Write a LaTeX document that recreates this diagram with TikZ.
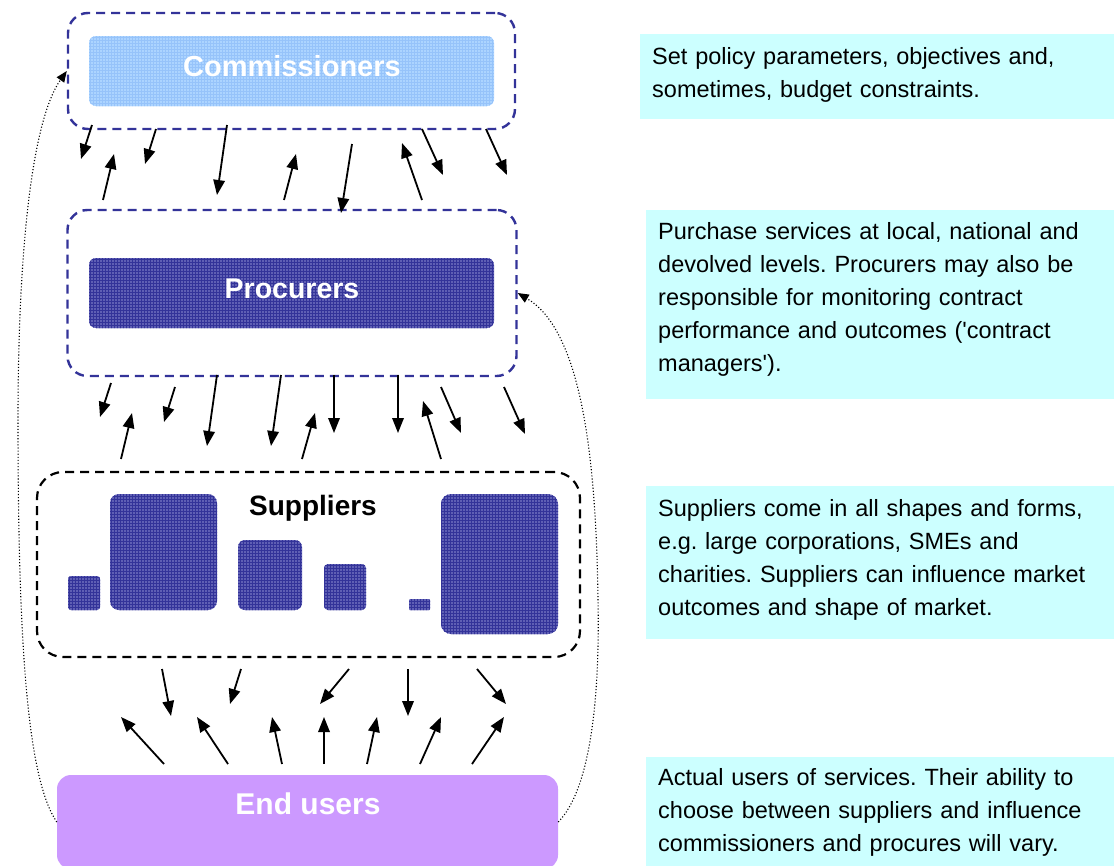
\documentclass[tikz,border=0pt]{standalone}
\usepackage{fontspec}
\setmainfont{Liberation Sans}[Ligatures=TeXOff]
\frenchspacing
\usetikzlibrary{arrows.meta,patterns}
\definecolor{dblue}{RGB}{51,51,153}
\definecolor{procfill}{RGB}{95,95,180}
\definecolor{commfill}{RGB}{172,212,255}
\definecolor{commline}{RGB}{150,195,250}
\definecolor{eufill}{RGB}{204,153,255}
\definecolor{notefill}{RGB}{204,255,255}
\tikzset{
  outerbox/.style={draw=dblue,line width=2.4pt,dash pattern=on 9pt off 6pt,rounded corners=20pt,inner sep=0pt},
  supbox/.style={draw=black,line width=2.2pt,dash pattern=on 9pt off 6pt,rounded corners=26pt,inner sep=0pt},
  procstyle/.style={fill=procfill,rounded corners=7pt,inner sep=0pt,
     postaction={pattern=grid,pattern color=dblue}},
  commstyle/.style={fill=commfill,rounded corners=7pt,inner sep=0pt,
     postaction={pattern=grid,pattern color=commline}},
  boxlabel/.style={text=white,inner sep=0pt,font=\bfseries\fontsize{29}{30}\selectfont},
  supsq/.style={fill=procfill,rounded corners=#1,postaction={pattern=grid,pattern color=dblue}},
  notebox/.style={fill=notefill,anchor=north west,inner sep=0pt,minimum width=#1},
  notetext/.style={anchor=north west,inner sep=0pt,text width=450pt,align=left,
     font=\fontsize{23.5}{33}\selectfont},
  arr/.style={line width=1.8pt,-{Triangle[length=15pt,width=11.5pt]}},
  dotarr/.style={line width=1.1pt,dotted,-{Triangle[length=11pt,width=9pt]}}
}
\begin{document}
\begin{tikzpicture}[x=1pt,y=-1pt]
\clip (0,0) rectangle (1114,865);
\fill[white] (0,0) rectangle (1114,865);

% right notes
\node[notebox=474pt,minimum height=85pt] (n1) at (640,34) {};
\node[notetext] (t1) at (652,47) {Set policy parameters, objectives and,\\sometimes, budget constraints.};
\node[notebox=468pt,minimum height=189pt] (n2) at (646,210) {};
\node[notetext] (t2) at (658,222) {Purchase services at local, national and\\devolved levels. Procurers may also be\\responsible for monitoring contract\\performance and outcomes ('contract\\managers').};
\node[notebox=468pt,minimum height=153pt] (n3) at (646,486) {};
\node[notetext] (t3) at (658,499) {Suppliers come in all shapes and forms,\\e.g. large corporations, SMEs and\\charities. Suppliers can influence market\\outcomes and shape of market.};
\node[notebox=468pt,minimum height=112pt] (n4) at (646,757) {};
\node[notetext] (t4) at (658,768) {Actual users of services. Their ability to\\choose between suppliers and influence\\commissioners and procures will vary.};

% commissioners
\node[outerbox,minimum width=447pt,minimum height=116pt] (commbox) at (291.5,71) {};
\node[commstyle,minimum width=405pt,minimum height=70pt] (comm) at (291.5,71) {};
\node[boxlabel] (commlabel) at (292,66) {Commissioners};

% procurers
\node[outerbox,minimum width=449pt,minimum height=166pt] (procbox) at (292,293) {};
\node[procstyle,minimum width=405pt,minimum height=70pt] (proc) at (291.5,293) {};
\node[boxlabel,font=\bfseries\fontsize{28.5}{30}\selectfont] (proclabel) at (292,289) {Procurers};

% suppliers
\node[supbox,minimum width=543pt,minimum height=185pt] (supbox) at (308.5,564.5) {};
\node[font=\bfseries\fontsize{28}{30}\selectfont,inner sep=0pt] (suplabel) at (313,508) {Suppliers};
\fill[supsq=3pt] (68,576) rectangle (100,610);
\fill[supsq=9pt] (110,494) rectangle (217,610);
\fill[supsq=7pt] (238,540) rectangle (302,610);
\fill[supsq=4pt] (324,564) rectangle (366,610);
\fill[supsq=1pt] (409,599) rectangle (430,610);
\fill[supsq=10pt] (441,494) rectangle (558,634);

% end users
\node[fill=eufill,rounded corners=14pt,minimum width=501pt,minimum height=94pt,inner sep=0pt] (eu) at (307.5,822) {};
\node[boxlabel,font=\bfseries\fontsize{30}{32}\selectfont] (eulabel) at (308,804) {End users};

% arrows commissioners <-> procurers
\foreach \a/\b/\c/\d in {92/125/81/159, 103/200/114/154, 156/129/145/164, 227/125/217/195,
  284/200/296/154, 352/144/341/213, 422/200/402/143, 422/129/443/175, 486/129/507/175}
  \draw[arr] (\a,\b) -- (\c,\d);
% arrows procurers <-> suppliers
\foreach \a/\b/\c/\d in {111/383/100/417, 121/459/132/413, 175/387/164/422, 217/375/207/446,
  281/375/271/446, 302/459/315/413, 334/375/334/433, 398/375/398/433, 441/459/423/401,
  441/387/461/433, 504/387/525/434}
  \draw[arr] (\a,\b) -- (\c,\d);
% arrows suppliers <-> end users
\foreach \a/\b/\c/\d in {162/669/171/716, 241/669/230/704, 349/669/320/704, 408/669/408/716,
  477/669/506/704, 164/764/121/717, 228/764/197/717, 282/764/272/717, 324/764/324/717,
  367/764/377/717, 420/764/441/717, 472/764/504/717}
  \draw[arr] (\a,\b) -- (\c,\d);

% dotted feedback curves
\draw[dotarr] (eu.west) .. controls (28,780) and (18,650) .. (18,420) .. controls (18,250) and (32,120) .. (commbox.west);
\draw[dotarr] (eu.east) .. controls (590,790) and (600,700) .. (598,600) .. controls (596,450) and (580,330) .. (procbox.east);
\end{tikzpicture}
\end{document}
